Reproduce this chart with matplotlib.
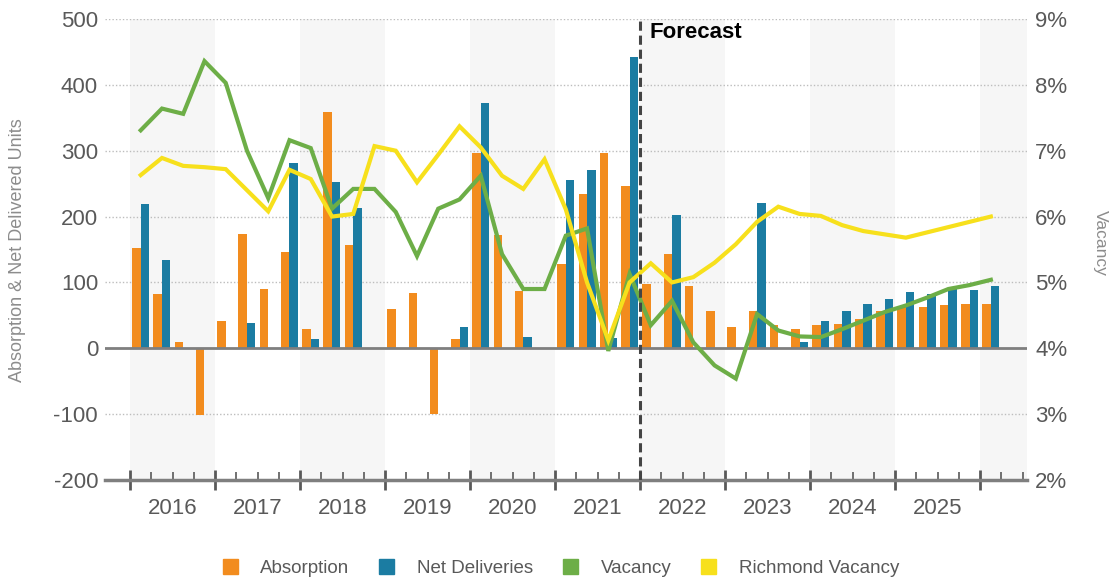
import numpy as np
import matplotlib
matplotlib.use("Agg")
import matplotlib.pyplot as plt
from matplotlib.ticker import FixedLocator, FuncFormatter
from matplotlib.patches import Patch

plt.rcParams['font.family'] = ['Liberation Sans', 'DejaVu Sans']
plt.rcParams['axes.unicode_minus'] = False

# quarterly data, 2016 Q1 .. 2026 Q1
years = list(range(2016, 2026))
absorption = [153, 83, 9, -102,
              42, 174, 90, 146,
              30, 359, 157, 0,
              60, 84, -100, 14,
              297, 172, 87, 0,
              128, 235, 297, 246,
              98, 143, 94, 57,
              32, 57, 35, 30,
              35, 37, 45, 56,
              64, 62, 65, 67,
              67]
deliveries = [219, 134, 0, 0,
              0, 38, 0, 281,
              14, 252, 213, 0,
              0, 0, 0, 33,
              373, 0, 17, 0,
              255, 270, 15, 442,
              0, 203, 0, 0,
              0, 221, 0, 9,
              41, 56, 68, 75,
              86, 82, 90, 89,
              95]
vacancy = [7.31, 7.64, 7.56, 8.36,
           8.03, 7.00, 6.28, 7.16,
           7.04, 6.12, 6.42, 6.42,
           6.07, 5.40, 6.12, 6.26,
           6.62, 5.43, 4.90, 4.90,
           5.71, 5.82, 3.96, 5.13,
           4.35, 4.72, 4.09, 3.74,
           3.54, 4.52, 4.27, 4.18,
           4.17, 4.29, 4.42, 4.55,
           4.65, 4.77, 4.90, 4.96,
           5.04]
richmond = [6.63, 6.89, 6.77, 6.75,
            6.72, 6.40, 6.08, 6.71,
            6.57, 6.00, 6.04, 7.07,
            7.00, 6.52, 6.94, 7.37,
            7.05, 6.62, 6.42, 6.87,
            6.11, 5.00, 4.12, 5.00,
            5.29, 5.00, 5.08, 5.30,
            5.58, 5.92, 6.15, 6.04,
            6.01, 5.87, 5.78, 5.73,
            5.68, 5.76, 5.84, 5.92,
            6.00]
forecast_start = 24  # 2022 Q1

c_abs = '#F28C1E'
c_del = '#1B7CA2'
c_vac = '#6DAE47'
c_rich = '#F7E01C'
grey = '#595959'

fig = plt.figure(figsize=(11.15, 5.82), dpi=100)
ax = fig.add_axes([105 / 1115, 1 - 480 / 582, 922 / 1115, 461 / 582])
ax2 = ax.twinx()

x = np.arange(len(absorption)) + 0.5
w = 0.4

# alternating year bands
for start in range(0, 44, 8):
    ax.axvspan(start, start + 4, color='#F6F6F6', zorder=0, lw=0)

for yv in range(-100, 501, 100):
    if yv != 0:
        ax.axhline(yv, color='#BDBDBD', lw=1, ls=(0, (1, 1.5)), zorder=1)
ax.axhline(0, color='#7F7F7F', lw=2, zorder=3)

ax.bar(x - w / 2, absorption, width=w, color=c_abs, zorder=2)
ax.bar(x + w / 2, deliveries, width=w, color=c_del, zorder=2)

ax2.plot(x, vacancy, color=c_vac, lw=3, solid_joinstyle='miter')
ax2.plot(x, richmond, color=c_rich, lw=3, solid_joinstyle='miter')
ax2.axvline(forecast_start, color='#444444', lw=2.2, ls=(0, (3, 1.6)), zorder=5)
ax2.text(forecast_start + 0.45, 8.8, 'Forecast', fontsize=16, fontweight='bold',
         color='black', va='center', ha='left')

ax.set_xlim(-1.18, 42.2)
ax.set_ylim(-200, 500)
ax2.set_ylim(2, 9)

ax.set_yticks(range(-200, 501, 100))
ax.tick_params(axis='y', length=0, labelsize=16, labelcolor=grey, pad=5)
ax2.set_yticks(range(2, 10))
ax2.yaxis.set_major_formatter(FuncFormatter(lambda v, p: f'{int(v)}%'))
ax2.tick_params(axis='y', length=0, labelsize=16, labelcolor=grey, pad=6)

ax.xaxis.set_major_locator(FixedLocator(range(0, 41, 4)))
ax.xaxis.set_minor_locator(FixedLocator([q for q in range(1, 43) if q % 4]))
ax.tick_params(axis='x', which='major', direction='inout', length=14, width=2,
               color=grey, labelbottom=False)
ax.tick_params(axis='x', which='minor', direction='in', length=6, width=1.2, color=grey)
for i, yr in enumerate(years):
    ax.text(i * 4 + 2, -0.04, str(yr), transform=ax.get_xaxis_transform(),
            ha='center', va='top', fontsize=16, color=grey)

for a in (ax, ax2):
    for s in ('top', 'left', 'right', 'bottom'):
        a.spines[s].set_visible(False)
ax.spines['bottom'].set_visible(True)
ax.spines['bottom'].set_color('#7F7F7F')
ax.spines['bottom'].set_linewidth(2.5)

fig.text(18 / 1115, 1 - 250 / 582, 'Absorption & Net Delivered Units', rotation=90,
         ha='center', va='center', fontsize=13, color='#8C8C8C')
fig.text(1100 / 1115, 1 - 243 / 582, 'Vacancy', rotation=270,
         ha='center', va='center', fontsize=12.5, color='#8C8C8C')

labels = ['Absorption', 'Net Deliveries', 'Vacancy', 'Richmond Vacancy']
handles = [Patch(color=c_abs), Patch(color=c_del), Patch(color=c_vac), Patch(color=c_rich)]
fig.legend(handles, labels, loc='center', bbox_to_anchor=(0.503, 1 - 568 / 582),
           ncol=4, frameon=False, fontsize=13.5, labelcolor=grey,
           handlelength=0.8, handleheight=0.8, columnspacing=1.6, handletextpad=1.2)

fig.savefig('out.png', dpi=100)
